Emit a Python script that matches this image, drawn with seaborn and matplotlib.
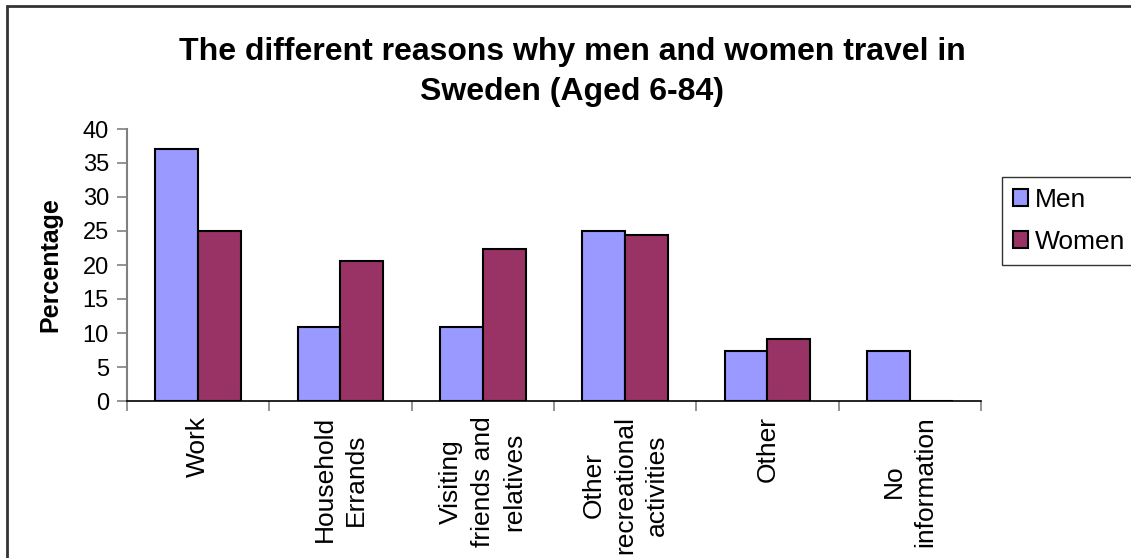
import numpy as np
import pandas as pd
import seaborn as sns
from matplotlib import pyplot as plt
from matplotlib.patches import Rectangle

categories = ['Work', 'Household\nErrands', 'Visiting\nfriends and\nrelatives',
              'Other\nrecreational\nactivities', 'Other', 'No\ninformation']
men = [37.0, 10.9, 10.9, 25.0, 7.4, 7.4]
women = [25.0, 20.6, 22.3, 24.4, 9.1, 0.0]
series = ['Men', 'Women']
colors = ['#9999FF', '#993366']

df = pd.DataFrame({
    'reason': categories * 2,
    'pct': men + women,
    'sex': ['Men'] * len(categories) + ['Women'] * len(categories),
})

sns.set_style('white')
plt.rcParams['font.family'] = ['Liberation Sans', 'DejaVu Sans']
plt.rcParams['text.color'] = 'black'
plt.rcParams['axes.labelcolor'] = 'black'

W, H = 1131, 558
fig = plt.figure(figsize=(W / 100, H / 100), dpi=100)
ax = fig.add_axes([127 / W, 1 - 401 / H, 854 / W, 272 / H])

sns.barplot(data=df, x='reason', y='pct', hue='sex', order=categories,
            hue_order=series, palette=colors, width=0.6, saturation=1,
            edgecolor='black', linewidth=1.5, ax=ax)

ax.set_xlim(-0.5, 5.5)
ax.set_ylim(0, 40)
ax.set_yticks(np.arange(0, 41, 5))
ax.tick_params(axis='y', labelsize=17, length=7, width=1.2, color='#808080',
               labelcolor='black', direction='out', left=True, pad=6)
ax.set_xticks(range(len(categories)))
ax.set_xticklabels(categories, rotation=90, va='top', ha='center',
                   multialignment='center', fontsize=19, linespacing=1.4)
ax.tick_params(axis='x', length=0, pad=11, labelcolor='black')
ax.set_xticks(np.arange(-0.5, 6, 1), minor=True)
ax.tick_params(axis='x', which='minor', length=7, width=1.2, color='#808080',
               direction='out', bottom=True)

for s in ['top', 'right']:
    ax.spines[s].set_visible(False)
ax.spines['left'].set_color('#808080')
ax.spines['left'].set_linewidth(1.5)
ax.spines['bottom'].set_color('black')
ax.spines['bottom'].set_linewidth(1.2)

ax.set_xlabel('')
ax.set_ylabel('Percentage', fontsize=18, fontweight='bold')
ax.yaxis.set_label_coords(-0.076, 0.5)

fig.text(0.506, 1 - 72 / H, 'The different reasons why men and women travel in\nSweden (Aged 6-84)',
         ha='center', va='center', fontsize=23, fontweight='bold', linespacing=1.45)

leg = ax.legend(loc='upper left', bbox_to_anchor=(1002 / W, 1 - 177 / H),
                bbox_transform=fig.transFigure, fontsize=19, frameon=True,
                fancybox=False, edgecolor='black', handlelength=0.6,
                handleheight=0.6, handletextpad=0.25, labelspacing=0.7,
                borderpad=0.4, borderaxespad=0)
leg.get_frame().set_linewidth(1.0)

fig.patches.append(Rectangle((7 / W, -0.1), 1.2, 1 - 6 / H + 0.1,
                             transform=fig.transFigure, fill=False,
                             edgecolor='#333333', linewidth=2))

fig.savefig('out.png', dpi=100)
